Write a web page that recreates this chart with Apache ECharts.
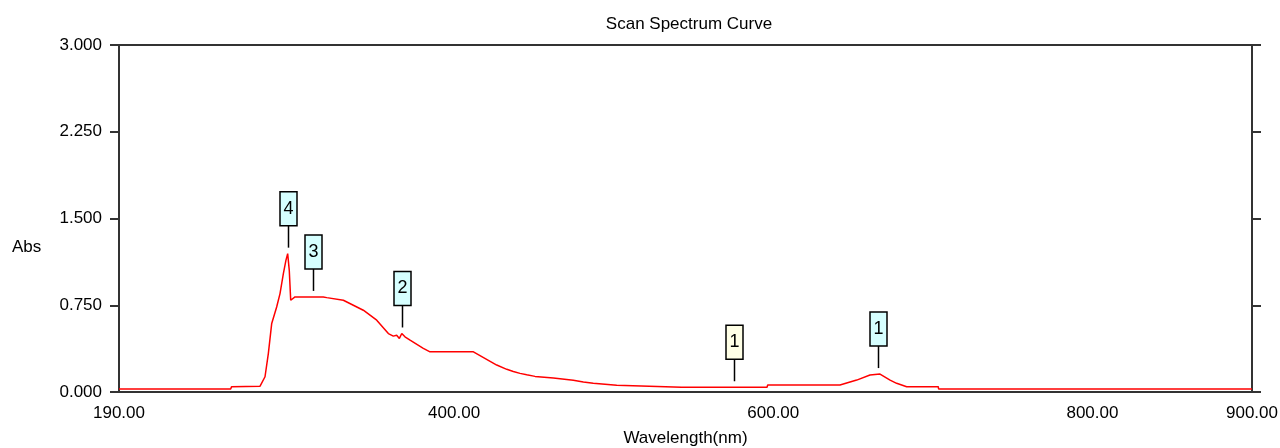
<!DOCTYPE html>
<html>
<head>
<meta charset="utf-8">
<script src="https://cdn.jsdelivr.net/npm/echarts@6/dist/echarts.min.js"></script>
<style>html,body{margin:0;padding:0;background:#fff;}#c{width:1280px;height:448px;}</style>
</head>
<body>
<div id="c"></div>
<script>
// Wavelength (nm) and absorbance
const wavelengths = [190,215,260,260.5,278.4,279.4,281.5,283.6,285.7,288.8,290.9,293.0,294.6,295.7,296.7,297.6,300.3,318.0,320.2,330.6,343.1,351.5,358.8,361.9,364.0,365.7,367.2,369.2,372.4,380.7,384.9,412.1,426.7,433.0,437.1,441.3,445.5,450.7,462.2,474.7,481.0,487.2,501.9,542.6,596.1,596.5,641.8,652.3,660.6,666.9,673.2,677.3,683.6,703.4,703.6,900];
const absorbance  = [0.026,0.026,0.026,0.046,0.05,0.06,0.132,0.334,0.593,0.735,0.851,1.023,1.138,1.196,1.052,0.793,0.822,0.822,0.816,0.793,0.707,0.621,0.505,0.483,0.491,0.463,0.506,0.477,0.448,0.377,0.347,0.347,0.233,0.196,0.178,0.161,0.149,0.135,0.121,0.101,0.086,0.075,0.058,0.041,0.041,0.060,0.060,0.103,0.147,0.155,0.103,0.075,0.046,0.046,0.026,0.026];

// Peak markers
const markerWl    = [295.7, 311.4, 367.5, 575.6, 665.8];
const markerAbs   = [1.196, 0.822, 0.506, 0.041, 0.155];
const markerText  = ['4', '3', '2', '1', '1'];
const markerKind  = ['peak', 'peak', 'peak', 'valley', 'peak'];

// Tick labels
const xTickValues = [190, 400, 600, 800, 900];
const yTickMin = 0, yTickMax = 3, yTickStep = 0.75;

const FONT = "'Liberation Sans', Arial, sans-serif";
const AXIS_COLOR = '#333';

const curve = wavelengths.map((w, i) => [w, absorbance[i]]);
const markers = markerWl.map((w, i) => [w, markerAbs[i]]);
const fills = { peak: '#d6ffff', valley: '#ffffe6' };

const chart = echarts.init(document.getElementById('c'), null, { renderer: 'canvas' });
chart.setOption({
  animation: false,
  backgroundColor: '#fff',
  title: {
    text: 'Scan Spectrum Curve',
    left: 684, top: 11, textAlign: 'center',
    textStyle: { fontFamily: FONT, fontSize: 17, fontWeight: 'normal', color: '#000' }
  },
  graphic: [{
    type: 'text', left: 12, top: 239,
    style: { text: 'Abs', font: '17px ' + FONT, fill: '#000' }
  }],
  grid: { left: 119, right: 28, top: 45, bottom: 56, outerBoundsMode: 'none', containLabel: false },
  xAxis: [{
    type: 'value', min: 190, max: 900, position: 'bottom',
    name: 'Wavelength(nm)', nameLocation: 'middle', nameGap: 38,
    nameTextStyle: { fontFamily: FONT, fontSize: 17, color: '#000' },
    axisLine: { show: true, onZero: false, lineStyle: { color: AXIS_COLOR, width: 2 } },
    axisTick: { show: false },
    splitLine: { show: false },
    axisLabel: {
      customValues: xTickValues, margin: 13,
      fontFamily: FONT, fontSize: 17, color: '#000',
      formatter: v => Number(v).toFixed(2)
    }
  }, {
    type: 'value', min: 190, max: 900, position: 'top',
    axisLine: { show: true, onZero: false, lineStyle: { color: AXIS_COLOR, width: 2 } },
    axisTick: { show: false }, axisLabel: { show: false }, splitLine: { show: false }
  }],
  yAxis: [{
    type: 'value', min: yTickMin, max: yTickMax, interval: yTickStep, position: 'left',
    axisLine: { show: true, onZero: false, lineStyle: { color: AXIS_COLOR, width: 2 } },
    axisTick: { show: true, inside: false, length: 9, lineStyle: { color: AXIS_COLOR, width: 2 } },
    splitLine: { show: false },
    axisLabel: { margin: 17, fontFamily: FONT, fontSize: 17, color: '#000', formatter: v => Number(v).toFixed(3) }
  }, {
    type: 'value', min: yTickMin, max: yTickMax, interval: yTickStep, position: 'right',
    axisLine: { show: true, onZero: false, lineStyle: { color: AXIS_COLOR, width: 2 } },
    axisTick: { show: true, inside: false, length: 9, lineStyle: { color: AXIS_COLOR, width: 2 } },
    splitLine: { show: false },
    axisLabel: { show: false }
  }],
  series: [{
    type: 'line', data: curve, xAxisIndex: 0, yAxisIndex: 0,
    showSymbol: false, symbol: 'none',
    lineStyle: { color: '#ff0000', width: 1.5 },
    silent: true, z: 2
  }, {
    type: 'custom', data: markers, xAxisIndex: 0, yAxisIndex: 0, z: 3, silent: true,
    renderItem: function (params, api) {
      const p = api.coord([api.value(0), api.value(1)]);
      const i = params.dataIndex;
      const x = Math.round(p[0]) + 0.5;
      const yBottom = p[1] - 6;
      const yTop = yBottom - 22;
      const bw = 17, bh = 34;
      return {
        type: 'group',
        children: [
          { type: 'line', shape: { x1: x, y1: yBottom, x2: x, y2: yTop },
            style: { stroke: '#000', lineWidth: 1.5 } },
          { type: 'rect', shape: { x: x - bw / 2, y: yTop - bh, width: bw, height: bh },
            style: { fill: fills[markerKind[i]], stroke: '#000', lineWidth: 1.5 } },
          { type: 'text', x: x, y: yTop - bh / 2,
            style: { text: markerText[i], fill: '#000', font: '18px ' + FONT, align: 'center', verticalAlign: 'middle' } }
        ]
      };
    }
  }]
});
</script>
</body>
</html>
